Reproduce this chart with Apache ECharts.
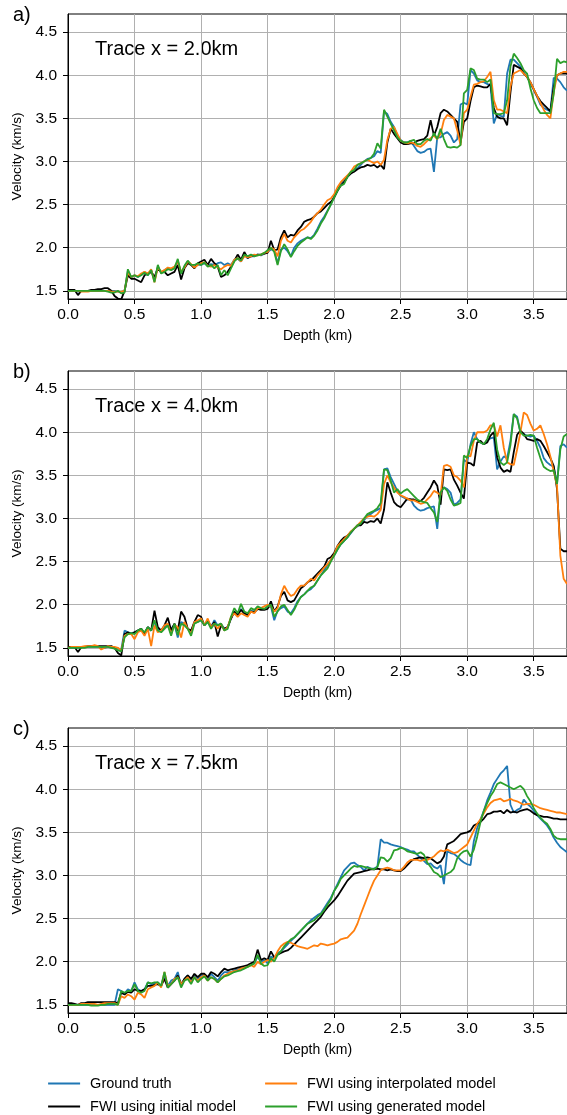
<!DOCTYPE html>
<html>
<head>
<meta charset="utf-8">
<script src="https://cdn.jsdelivr.net/npm/echarts@6/dist/echarts.min.js"></script>
<style>
  html, body { margin: 0; padding: 0; background: #ffffff; }
  #chart { width: 567px; height: 1115px; }
</style>
</head>
<body>
<div id="chart"></div>
<script>
// Depth sampling of the extracted velocity traces (km), 0 to 3.75 km every 25 m
const depthKm = Array.from({ length: 151 }, (_, i) => Math.round(i * 25) / 1000);

const seriesNames = ['Ground truth', 'FWI using initial model', 'FWI using interpolated model', 'FWI using generated model'];
const seriesColors = ['#1f77b4', '#000000', '#ff7f0e', '#2ca02c'];
const panelTags = ['a)', 'b)', 'c)'];
const traceLabels = ['Trace x = 2.0km', 'Trace x = 4.0km', 'Trace x = 7.5km'];
const yTicks = [1.5, 2.0, 2.5, 3.0, 3.5, 4.0, 4.5];

// ---- Trace x = 2.0 km (velocity, km/s) ----
const truthA = [
  1.50,1.50,1.50,1.49,1.50,1.50,1.50,1.50,1.50,1.50,
  1.50,1.50,1.50,1.50,1.50,1.49,1.49,1.50,1.73,1.66,
  1.68,1.66,1.69,1.72,1.68,1.74,1.63,1.78,1.71,1.74,
  1.76,1.75,1.77,1.85,1.70,1.78,1.84,1.80,1.78,1.80,
  1.80,1.82,1.79,1.81,1.80,1.82,1.83,1.80,1.82,1.80,
  1.86,1.87,1.84,1.92,1.88,1.90,1.90,1.92,1.91,1.93,
  1.95,1.98,1.97,1.82,1.98,2.00,1.96,1.90,2.00,2.05,
  2.08,2.10,2.12,2.11,2.15,2.22,2.30,2.36,2.43,2.50,
  2.60,2.66,2.74,2.78,2.83,2.86,2.90,2.92,2.96,3.00,
  3.03,3.04,3.06,3.12,3.10,3.58,3.55,3.46,3.40,3.30,
  3.25,3.22,3.22,3.24,3.18,3.12,3.10,3.11,3.14,3.15,
  2.88,3.28,3.28,3.32,3.34,3.30,3.22,3.26,3.66,3.68,
  3.66,4.06,4.02,3.94,3.92,3.92,3.90,3.88,3.44,3.55,
  3.53,3.52,4.02,4.18,4.18,4.14,4.10,4.03,3.98,3.90,
  3.83,3.75,3.66,3.62,3.60,3.58,3.97,3.96,3.92,3.86,
  3.82
];
const initialA = [
  1.51,1.51,1.51,1.45,1.50,1.50,1.50,1.51,1.51,1.52,
  1.52,1.53,1.53,1.50,1.44,1.41,1.40,1.50,1.68,1.64,
  1.64,1.62,1.60,1.68,1.70,1.72,1.66,1.76,1.72,1.72,
  1.68,1.70,1.72,1.80,1.63,1.76,1.82,1.80,1.76,1.82,
  1.84,1.86,1.80,1.87,1.82,1.78,1.66,1.68,1.72,1.78,
  1.85,1.92,1.86,1.95,1.88,1.90,1.91,1.92,1.92,1.93,
  1.94,2.08,1.97,1.98,2.12,2.20,2.12,2.15,2.14,2.20,
  2.24,2.30,2.32,2.33,2.36,2.40,2.42,2.46,2.50,2.53,
  2.58,2.66,2.72,2.76,2.82,2.86,2.88,2.91,2.93,2.94,
  2.96,2.95,2.96,2.93,2.96,2.91,3.22,3.38,3.32,3.27,
  3.22,3.20,3.20,3.21,3.21,3.24,3.25,3.26,3.30,3.48,
  3.30,3.40,3.56,3.60,3.58,3.54,3.50,3.46,3.22,3.46,
  3.50,3.70,3.86,3.88,3.87,3.86,3.86,3.90,3.62,3.52,
  3.50,3.50,3.42,3.80,4.12,4.10,4.08,4.02,3.98,3.92,
  3.84,3.76,3.70,3.66,3.62,3.58,3.86,4.00,4.02,4.02,
  4.02
];
const interpA = [
  1.50,1.50,1.50,1.50,1.49,1.49,1.49,1.50,1.50,1.50,
  1.50,1.50,1.50,1.49,1.49,1.49,1.49,1.50,1.71,1.66,
  1.68,1.67,1.70,1.72,1.70,1.75,1.60,1.77,1.72,1.74,
  1.77,1.76,1.78,1.84,1.72,1.77,1.84,1.81,1.77,1.80,
  1.82,1.83,1.79,1.78,1.80,1.77,1.75,1.78,1.80,1.79,
  1.86,1.88,1.84,1.90,1.89,1.90,1.92,1.91,1.92,1.94,
  1.95,2.00,1.98,1.90,2.08,2.16,2.08,2.06,2.12,2.16,
  2.20,2.22,2.26,2.30,2.36,2.40,2.44,2.50,2.55,2.57,
  2.62,2.70,2.76,2.80,2.84,2.88,2.94,2.96,2.98,3.00,
  3.02,3.00,2.98,3.00,2.96,3.02,3.25,3.38,3.40,3.32,
  3.24,3.22,3.21,3.22,3.21,3.18,3.17,3.20,3.24,3.27,
  3.30,3.26,3.32,3.48,3.54,3.52,3.50,3.36,3.19,3.56,
  3.60,3.75,3.89,3.90,3.92,3.93,3.98,4.04,3.71,3.60,
  3.60,3.58,3.56,3.87,4.02,4.04,4.06,4.02,3.98,3.92,
  3.84,3.76,3.68,3.60,3.54,3.50,3.80,4.00,4.02,4.04,
  4.04
];
const generatedA = [
  1.50,1.50,1.50,1.50,1.50,1.50,1.50,1.50,1.50,1.50,
  1.50,1.50,1.49,1.48,1.48,1.50,1.47,1.48,1.75,1.66,
  1.68,1.66,1.68,1.71,1.68,1.74,1.60,1.80,1.70,1.72,
  1.75,1.74,1.76,1.87,1.70,1.79,1.85,1.80,1.80,1.82,
  1.80,1.83,1.78,1.80,1.76,1.80,1.68,1.74,1.68,1.76,
  1.84,1.88,1.85,1.92,1.90,1.92,1.90,1.91,1.92,1.94,
  1.97,2.00,1.95,1.80,1.96,2.04,1.98,1.89,1.96,2.02,
  2.06,2.09,2.12,2.10,2.14,2.20,2.28,2.34,2.42,2.50,
  2.58,2.66,2.72,2.74,2.82,2.88,2.90,2.96,2.98,3.00,
  3.02,3.04,3.09,3.21,3.15,3.60,3.52,3.44,3.36,3.28,
  3.24,3.22,3.22,3.24,3.25,3.20,3.20,3.24,3.26,3.24,
  3.33,3.26,3.38,3.26,3.17,3.16,3.17,3.16,3.19,3.79,
  3.83,4.08,4.06,3.96,3.95,3.95,3.92,3.95,3.56,3.55,
  3.55,3.56,3.71,4.10,4.25,4.20,4.14,4.06,4.02,3.85,
  3.71,3.62,3.56,3.56,3.56,3.56,3.78,4.19,4.14,4.16,
  4.15
];

// ---- Trace x = 4.0 km ----
const truthB = [
  1.50,1.50,1.50,1.50,1.51,1.51,1.51,1.51,1.51,1.51,
  1.50,1.50,1.51,1.51,1.50,1.49,1.48,1.70,1.68,1.67,
  1.68,1.70,1.72,1.66,1.74,1.70,1.80,1.72,1.70,1.74,
  1.78,1.72,1.77,1.62,1.80,1.78,1.72,1.68,1.79,1.80,
  1.82,1.76,1.80,1.74,1.82,1.76,1.78,1.72,1.74,1.84,
  1.92,1.88,1.95,1.90,1.88,1.93,1.92,1.96,1.95,1.95,
  1.97,1.98,1.82,1.93,1.96,1.98,1.92,1.90,1.96,2.04,
  2.09,2.12,2.16,2.18,2.22,2.28,2.34,2.40,2.46,2.52,
  2.57,2.64,2.70,2.74,2.78,2.83,2.88,2.91,2.94,2.98,
  3.03,3.05,3.08,3.10,3.12,3.57,3.58,3.48,3.40,3.32,
  3.26,3.24,3.22,3.22,3.15,3.11,3.09,3.10,3.12,3.13,
  3.14,2.88,3.30,3.36,3.34,3.30,3.16,3.18,3.22,3.68,
  3.65,3.86,4.00,3.92,3.88,3.86,3.90,3.93,3.94,3.57,
  3.66,3.72,3.70,3.90,4.21,4.18,4.00,3.98,3.96,3.95,
  3.96,3.90,3.82,3.70,3.65,3.62,3.60,3.40,3.84,3.86,
  3.82
];
const initialB = [
  1.51,1.51,1.51,1.45,1.51,1.51,1.52,1.52,1.52,1.52,
  1.52,1.52,1.52,1.52,1.50,1.44,1.41,1.66,1.68,1.66,
  1.68,1.70,1.72,1.66,1.74,1.70,1.93,1.74,1.70,1.76,
  1.85,1.70,1.78,1.70,1.92,1.86,1.72,1.70,1.80,1.88,
  1.86,1.76,1.82,1.74,1.80,1.63,1.76,1.72,1.74,1.84,
  1.92,1.88,1.94,1.90,1.88,1.92,1.91,1.95,1.94,1.94,
  1.95,2.04,1.92,1.98,2.10,2.15,2.05,2.03,2.05,2.12,
  2.19,2.22,2.26,2.28,2.32,2.36,2.40,2.44,2.53,2.55,
  2.60,2.68,2.74,2.78,2.80,2.84,2.88,2.92,2.92,2.96,
  2.95,2.97,2.96,3.00,2.94,3.10,3.42,3.30,3.19,3.15,
  3.13,3.18,3.23,3.22,3.22,3.20,3.20,3.24,3.30,3.36,
  3.44,3.38,3.16,3.57,3.56,3.57,3.45,3.38,3.30,3.23,
  3.65,3.64,3.61,3.88,3.90,3.86,3.88,3.96,4.00,3.71,
  3.59,3.54,3.56,3.54,3.77,3.97,4.02,3.98,3.92,3.91,
  3.90,3.92,3.90,3.84,3.77,3.70,3.61,3.34,2.65,2.62,
  2.62
];
const interpB = [
  1.50,1.51,1.51,1.51,1.51,1.52,1.52,1.52,1.53,1.52,
  1.48,1.50,1.52,1.51,1.51,1.50,1.47,1.64,1.66,1.66,
  1.60,1.68,1.70,1.64,1.72,1.52,1.76,1.68,1.70,1.76,
  1.78,1.66,1.76,1.74,1.62,1.80,1.72,1.66,1.80,1.82,
  1.84,1.76,1.84,1.74,1.78,1.72,1.78,1.70,1.74,1.86,
  1.90,1.86,1.90,1.88,1.86,1.92,1.90,1.96,1.96,1.98,
  2.00,1.98,1.92,1.96,2.12,2.22,2.15,2.10,2.12,2.18,
  2.22,2.22,2.26,2.30,2.28,2.34,2.38,2.43,2.47,2.52,
  2.58,2.68,2.72,2.76,2.80,2.85,2.88,2.92,2.96,3.00,
  3.02,3.03,3.02,3.05,3.10,3.40,3.50,3.42,3.36,3.30,
  3.27,3.25,3.23,3.21,3.21,3.19,3.17,3.18,3.22,3.26,
  3.32,3.30,3.27,3.61,3.62,3.60,3.50,3.48,3.44,3.36,
  3.73,3.72,3.90,4.00,4.00,4.00,4.02,4.08,4.08,3.95,
  4.08,3.82,3.65,3.63,3.62,3.80,4.00,4.23,4.20,4.10,
  4.02,4.04,4.08,3.98,3.86,3.72,3.55,3.38,2.57,2.30,
  2.24
];
const generatedB = [
  1.50,1.50,1.50,1.50,1.50,1.50,1.51,1.51,1.51,1.51,
  1.51,1.51,1.51,1.50,1.49,1.47,1.46,1.62,1.66,1.67,
  1.66,1.70,1.72,1.68,1.74,1.70,1.82,1.70,1.68,1.72,
  1.76,1.64,1.78,1.65,1.78,1.76,1.72,1.64,1.78,1.80,
  1.82,1.76,1.80,1.72,1.78,1.76,1.78,1.70,1.72,1.86,
  1.96,1.90,2.01,1.92,1.90,1.96,1.94,1.98,1.96,1.95,
  1.98,2.00,1.86,1.92,1.98,2.00,1.94,1.88,1.94,2.02,
  2.09,2.12,2.16,2.20,2.22,2.28,2.34,2.38,2.42,2.50,
  2.57,2.64,2.70,2.74,2.78,2.84,2.88,2.92,2.94,3.00,
  3.05,3.07,3.09,3.12,3.18,3.57,3.56,3.44,3.30,3.34,
  3.29,3.32,3.34,3.30,3.26,3.22,3.20,3.19,3.18,3.12,
  3.07,2.96,3.30,3.36,3.32,3.22,3.15,3.16,3.18,3.73,
  3.70,3.84,3.92,3.92,3.88,3.86,3.92,4.03,4.11,3.80,
  3.65,3.62,3.65,3.85,4.21,4.16,4.00,3.96,3.96,3.97,
  3.96,3.82,3.70,3.60,3.57,3.55,3.56,3.40,3.80,3.95,
  3.98
];

// ---- Trace x = 7.5 km ----
const truthC = [
  1.50,1.50,1.50,1.50,1.50,1.50,1.50,1.50,1.50,1.50,
  1.50,1.50,1.50,1.50,1.50,1.68,1.66,1.63,1.68,1.66,
  1.76,1.68,1.66,1.68,1.76,1.74,1.75,1.76,1.72,1.84,
  1.72,1.78,1.80,1.88,1.72,1.80,1.84,1.78,1.84,1.80,
  1.84,1.84,1.80,1.86,1.82,1.78,1.84,1.88,1.88,1.88,
  1.90,1.91,1.92,1.94,1.95,1.96,1.98,2.06,2.00,2.02,
  1.98,2.06,2.04,2.10,2.12,2.16,2.20,2.24,2.28,2.32,
  2.36,2.40,2.44,2.48,2.51,2.54,2.56,2.62,2.68,2.74,
  2.82,2.90,2.98,3.06,3.10,3.14,3.15,3.12,3.10,3.06,
  3.10,3.08,3.08,3.10,3.42,3.38,3.38,3.36,3.35,3.34,
  3.33,3.31,3.30,3.28,3.28,3.24,3.20,3.17,3.13,3.14,
  3.10,3.08,3.12,2.90,3.28,3.26,3.25,3.22,3.18,3.15,
  3.13,3.12,3.40,3.55,3.65,3.75,3.87,3.96,4.06,4.12,
  4.18,4.22,4.27,3.82,3.73,3.76,3.78,3.88,3.83,3.80,
  3.75,3.70,3.66,3.62,3.58,3.52,3.44,3.38,3.33,3.30,
  3.27
];
const initialC = [
  1.52,1.52,1.51,1.50,1.52,1.52,1.53,1.53,1.53,1.53,
  1.53,1.53,1.53,1.53,1.53,1.52,1.64,1.62,1.65,1.64,
  1.68,1.66,1.66,1.68,1.72,1.72,1.73,1.74,1.72,1.80,
  1.70,1.74,1.78,1.84,1.74,1.80,1.84,1.80,1.86,1.82,
  1.86,1.86,1.82,1.88,1.86,1.83,1.88,1.92,1.90,1.91,
  1.92,1.93,1.94,1.95,1.96,1.98,2.00,2.14,2.02,2.04,
  2.02,2.12,2.05,2.08,2.10,2.12,2.13,2.16,2.20,2.24,
  2.28,2.32,2.36,2.40,2.44,2.48,2.52,2.58,2.63,2.67,
  2.71,2.76,2.82,2.88,2.94,2.98,3.02,3.03,3.04,3.05,
  3.06,3.07,3.07,3.08,3.07,3.07,3.06,3.07,3.06,3.05,
  3.05,3.08,3.12,3.16,3.19,3.20,3.21,3.20,3.21,3.20,
  3.17,3.14,3.16,3.22,3.36,3.38,3.40,3.44,3.48,3.49,
  3.50,3.52,3.58,3.60,3.62,3.66,3.71,3.72,3.74,3.74,
  3.75,3.72,3.76,3.73,3.74,3.73,3.75,3.76,3.77,3.75,
  3.72,3.70,3.69,3.68,3.68,3.67,3.66,3.66,3.65,3.65,
  3.65
];
const interpC = [
  1.50,1.50,1.50,1.50,1.51,1.51,1.51,1.51,1.51,1.50,
  1.51,1.52,1.52,1.52,1.52,1.50,1.60,1.58,1.62,1.60,
  1.56,1.64,1.62,1.58,1.68,1.70,1.72,1.76,1.70,1.88,
  1.72,1.74,1.80,1.82,1.74,1.78,1.82,1.76,1.82,1.78,
  1.82,1.84,1.78,1.82,1.80,1.76,1.80,1.84,1.86,1.88,
  1.89,1.90,1.92,1.93,1.94,1.96,1.94,2.00,1.97,2.00,
  2.02,2.00,2.04,2.12,2.18,2.21,2.23,2.22,2.20,2.18,
  2.17,2.16,2.15,2.17,2.19,2.18,2.21,2.20,2.19,2.20,
  2.21,2.23,2.26,2.27,2.28,2.32,2.36,2.44,2.55,2.65,
  2.75,2.85,2.94,3.00,3.06,3.08,3.09,3.08,3.06,3.06,
  3.06,3.10,3.15,3.18,3.18,3.18,3.17,3.18,3.18,3.20,
  3.22,3.26,3.29,3.28,3.30,3.28,3.26,3.27,3.30,3.33,
  3.36,3.44,3.52,3.60,3.65,3.72,3.79,3.84,3.87,3.88,
  3.89,3.86,3.87,3.89,3.87,3.86,3.84,3.82,3.83,3.83,
  3.82,3.80,3.78,3.77,3.76,3.75,3.74,3.73,3.73,3.72,
  3.71
];
const generatedC = [
  1.50,1.50,1.50,1.50,1.50,1.50,1.50,1.49,1.49,1.49,
  1.50,1.50,1.51,1.51,1.51,1.50,1.66,1.64,1.66,1.66,
  1.74,1.66,1.64,1.66,1.76,1.75,1.76,1.76,1.72,1.88,
  1.70,1.74,1.78,1.82,1.70,1.78,1.80,1.74,1.82,1.76,
  1.80,1.83,1.78,1.82,1.80,1.76,1.80,1.83,1.84,1.86,
  1.88,1.89,1.90,1.92,1.94,1.96,1.98,2.08,1.98,1.95,
  1.96,2.04,2.00,2.08,2.12,2.18,2.22,2.26,2.28,2.32,
  2.36,2.40,2.44,2.46,2.48,2.52,2.55,2.60,2.66,2.72,
  2.82,2.88,2.96,3.00,3.04,3.08,3.11,3.10,3.11,3.10,
  3.09,3.08,3.07,3.10,3.21,3.20,3.16,3.20,3.29,3.30,
  3.32,3.31,3.28,3.27,3.26,3.25,3.27,3.24,3.15,3.10,
  3.04,3.02,2.98,3.00,3.02,3.04,3.08,3.20,3.25,3.28,
  3.29,3.22,3.30,3.45,3.62,3.75,3.84,3.92,3.98,4.06,
  4.08,4.06,4.04,4.02,4.00,4.02,4.04,4.00,3.92,3.86,
  3.78,3.72,3.67,3.63,3.60,3.54,3.46,3.43,3.42,3.42,
  3.42
];

const panelValues = [
  [truthA, initialA, interpA, generatedA],
  [truthB, initialB, interpB, generatedB],
  [truthC, initialC, interpC, generatedC]
];

const FONT = '"Liberation Sans", Arial, Helvetica, sans-serif';
const gridTops = [14, 371, 728];
const plotLeft = 68, plotWidth = 500, plotHeight = 285;

const fmt1 = v => Number(v).toFixed(1);

const grids = gridTops.map(t => ({
  left: plotLeft, top: t, width: plotWidth, height: plotHeight,
  show: true, borderColor: '#000000', borderWidth: 1, backgroundColor: 'transparent', containLabel: false
}));

const xAxes = gridTops.map((t, i) => ({
  gridIndex: i, type: 'value', min: 0, max: 3.75, interval: 0.5,
  name: 'Depth (km)', nameLocation: 'middle', nameGap: 30,
  nameTextStyle: { fontFamily: FONT, fontSize: 14, color: '#000000' },
  axisLine: { show: true, onZero: false, lineStyle: { color: '#000000', width: 1 } },
  axisTick: { show: true, length: 5, lineStyle: { color: '#000000', width: 1 } },
  axisLabel: { fontFamily: FONT, fontSize: 15.5, color: '#000000', margin: 8,
    formatter: fmt1, showMaxLabel: false, showMinLabel: true },
  splitLine: { show: true, lineStyle: { color: '#b0b0b0', width: 1 } }
}));

const yAxes = gridTops.map((t, i) => ({
  gridIndex: i, type: 'value', min: 1.405, max: 4.71,
  name: 'Velocity (km/s)', nameLocation: 'middle', nameGap: 38,
  nameTextStyle: { fontFamily: FONT, fontSize: 13.5, color: '#000000' },
  axisLine: { show: true, lineStyle: { color: '#000000', width: 1 } },
  axisTick: { show: true, length: 5, customValues: yTicks, lineStyle: { color: '#000000', width: 1 } },
  axisLabel: { fontFamily: FONT, fontSize: 15.5, color: '#000000', margin: 11,
    customValues: yTicks, formatter: fmt1 },
  splitLine: { show: true, lineStyle: { color: '#b0b0b0', width: 1 } }
}));

const series = [];
panelValues.forEach((group, p) => {
  group.forEach((vals, k) => {
    series.push({
      name: seriesNames[k], type: 'line', xAxisIndex: p, yAxisIndex: p,
      data: vals.map((v, i) => [depthKm[i], v]),
      symbol: 'none', showSymbol: false, smooth: false,
      color: seriesColors[k],
      lineStyle: { color: seriesColors[k], width: 1.8 },
      z: 2 + k, silent: true, clip: true
    });
  });
});

const graphics = [];
gridTops.forEach((t, i) => {
  graphics.push({ type: 'text', left: 13, top: t - 9,
    style: { text: panelTags[i], font: '20px ' + FONT, fill: '#000000' } });
  graphics.push({ type: 'text', left: 95, top: t + 25,
    style: { text: traceLabels[i], font: '20px ' + FONT, fill: '#000000' } });
});

// Legend entries show just the line sample (the marker circle is hidden)
const legendBase = {
  orient: 'vertical', padding: 0, itemWidth: 32, itemHeight: 14, itemGap: 8,
  selectedMode: false,
  itemStyle: { opacity: 0 },
  lineStyle: { width: 2.2 },
  textStyle: { fontFamily: FONT, fontSize: 14.5, color: '#000000', padding: [0, 0, 0, 5] }
};

const option = {
  animation: false,
  backgroundColor: '#ffffff',
  grid: grids,
  xAxis: xAxes,
  yAxis: yAxes,
  legend: [
    Object.assign({}, legendBase, { left: 47, top: 1076, data: [seriesNames[0], seriesNames[1]] }),
    Object.assign({}, legendBase, { left: 264, top: 1076, data: [seriesNames[2], seriesNames[3]] })
  ],
  graphic: graphics,
  series: series
};

const chart = echarts.init(document.getElementById('chart'), null, { renderer: 'canvas' });
chart.setOption(option);
</script>
</body>
</html>
